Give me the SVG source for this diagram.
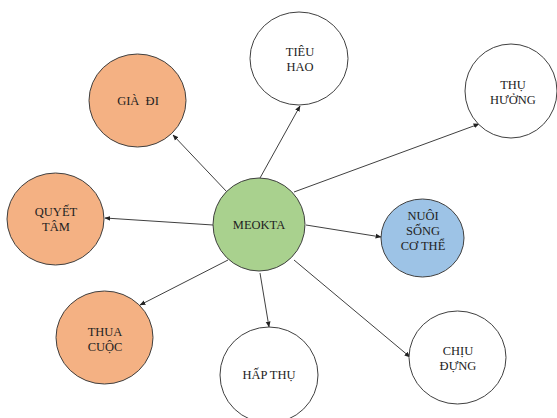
<svg xmlns="http://www.w3.org/2000/svg" width="557" height="418" viewBox="0 0 557 418">
<defs>
<style>
.n{stroke:#404040;stroke-width:1}
.w{fill:#ffffff}
.o{fill:#F4B183}
.g{fill:#A9D18E}
.b{fill:#9DC3E6}
text{font-family:'Liberation Serif','DejaVu Serif',serif;font-size:12.5px;fill:#222;text-anchor:middle}
.c line{stroke:#404040;stroke-width:1;marker-end:url(#a)}
</style>
<marker id="a" viewBox="0 0 10 10" refX="9" refY="5" markerWidth="6" markerHeight="6" orient="auto" markerUnits="userSpaceOnUse">
<path d="M0,1 L10,5 L0,9 z" fill="#222"/>
</marker>
</defs>
<rect width="557" height="418" fill="#ffffff"/>
<g class="c" id="connectors">
<line x1="227" y1="192" x2="173" y2="135"/>
<line x1="260" y1="178" x2="300" y2="106"/>
<line x1="294" y1="192" x2="479" y2="124"/>
<line x1="213" y1="225" x2="105" y2="218"/>
<line x1="228" y1="260" x2="140" y2="305"/>
<line x1="260" y1="273" x2="269" y2="327"/>
<line x1="306" y1="225" x2="381" y2="237"/>
<line x1="294" y1="260" x2="410" y2="357"/>
</g>
<g id="meokta"><ellipse class="n g" cx="259" cy="224.5" rx="46" ry="46.5"/><text x="259" y="229" font-family="Liberation Serif, serif">MEOKTA</text></g>
<g id="gia-di"><ellipse class="n o" cx="137.5" cy="100.5" rx="48.5" ry="46.5"/><text x="138" y="105" xml:space="preserve" font-family="Liberation Serif, serif">GIÀ  ĐI</text></g>
<g id="quyet-tam"><ellipse class="n o" cx="55.5" cy="219" rx="48.5" ry="46"/><text x="56" y="216" font-family="Liberation Serif, serif">QUYẾT</text><text x="56" y="231" font-family="Liberation Serif, serif">TÂM</text></g>
<g id="thua-cuoc"><ellipse class="n o" cx="104.5" cy="337.5" rx="48.5" ry="46.5"/><text x="105" y="336" font-family="Liberation Serif, serif">THUA</text><text x="105" y="351" font-family="Liberation Serif, serif">CUỘC</text></g>
<g id="tieu-hao"><ellipse class="n w" cx="299" cy="58.5" rx="49" ry="46.5"/><text x="300" y="56" font-family="Liberation Serif, serif">TIÊU</text><text x="300" y="71" font-family="Liberation Serif, serif">HAO</text></g>
<g id="thu-huong"><ellipse class="n w" cx="511" cy="91" rx="46" ry="47"/><text x="513" y="89" font-family="Liberation Serif, serif">THỤ</text><text x="513" y="104" font-family="Liberation Serif, serif">HƯỞNG</text></g>
<g id="nuoi-song"><ellipse class="n b" cx="422.5" cy="238" rx="41.5" ry="39"/><text x="423" y="220" font-family="Liberation Serif, serif">NUÔI</text><text x="423" y="235" font-family="Liberation Serif, serif">SỐNG</text><text x="423" y="250" font-family="Liberation Serif, serif">CƠ THỂ</text></g>
<g id="chiu-dung"><ellipse class="n w" cx="457.5" cy="357.5" rx="48.5" ry="46.5"/><text x="458" y="355" font-family="Liberation Serif, serif">CHỊU</text><text x="458" y="370" font-family="Liberation Serif, serif">ĐỰNG</text></g>
<g id="hap-thu"><ellipse class="n w" cx="269" cy="375" rx="49" ry="48"/><text x="269" y="379" font-family="Liberation Serif, serif">HẤP THỤ</text></g>
</svg>
